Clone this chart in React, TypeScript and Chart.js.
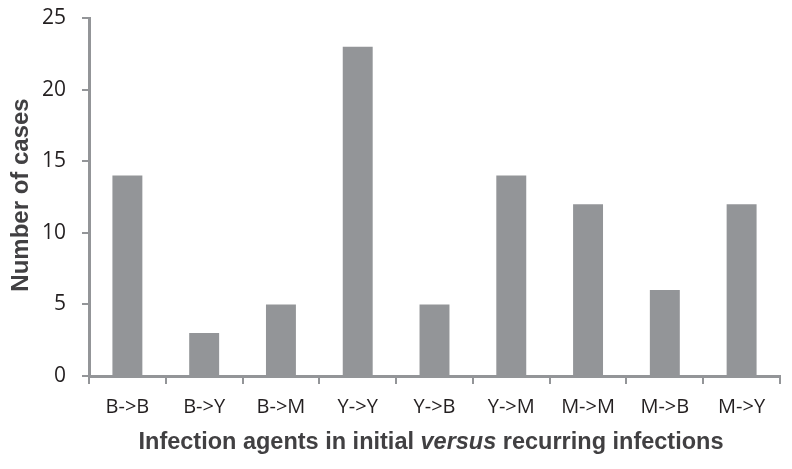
import React, { useEffect, useRef } from "react";
import { Chart, registerables } from "chart.js";

Chart.register(...registerables);

const categories = ["B->B", "B->Y", "B->M", "Y->Y", "Y->B", "Y->M", "M->M", "M->B", "M->Y"];
const cases = [14, 3, 5, 23, 5, 14, 12, 6, 12];
const yTicks = [0, 5, 10, 15, 20, 25];

const GRAY = "#939598";
const TEXT = "#231f20";
const TITLE = "#414042";

const titlePlugin = {
  id: "mixedTitles",
  afterDraw(chart: any) {
    const ctx = chart.ctx;
    ctx.save();
    ctx.fillStyle = TITLE;
    ctx.textBaseline = "middle";
    const parts = [
      { t: "Infection agents in initial ", f: "bold 23.5px 'Liberation Sans', Arial, sans-serif" },
      { t: "versus", f: "italic bold 23.5px 'Liberation Sans', Arial, sans-serif" },
      { t: " recurring infections", f: "bold 23.5px 'Liberation Sans', Arial, sans-serif" },
    ];
    let total = 0;
    for (const p of parts) {
      ctx.font = p.f;
      total += ctx.measureText(p.t).width;
    }
    let x = 431 - total / 2;
    ctx.textAlign = "left";
    for (const p of parts) {
      ctx.font = p.f;
      ctx.fillText(p.t, x, 443);
      x += ctx.measureText(p.t).width;
    }
    ctx.translate(21, 195);
    ctx.rotate(-Math.PI / 2);
    ctx.textAlign = "center";
    ctx.font = "bold 24px 'Liberation Sans', Arial, sans-serif";
    ctx.fillText("Number of cases", 0, 0);
    ctx.restore();
  },
};

export default function App() {
  const ref = useRef<HTMLCanvasElement>(null);
  useEffect(() => {
    if (!ref.current) return;
    const chart = new Chart(ref.current, {
      type: "bar",
      data: {
        labels: categories,
        datasets: [
          {
            data: cases,
            backgroundColor: GRAY,
            borderWidth: 0,
            categoryPercentage: 0.39,
            barPercentage: 1,
          },
        ],
      },
      options: {
        animation: false,
        responsive: false,
        maintainAspectRatio: false,
        layout: { padding: { top: 18, right: 12, left: 0, bottom: 0 } },
        plugins: { legend: { display: false }, tooltip: { enabled: false }, title: { display: false } },
        scales: {
          x: {
            offset: true,
            grid: { offset: true, drawOnChartArea: false, drawTicks: true, tickLength: 8, color: GRAY, lineWidth: 2 },
            border: { color: GRAY, width: 3 },
            ticks: {
              color: TEXT,
              padding: 11,
              font: { family: "'Open Sans', sans-serif", size: 20 },
              maxRotation: 0,
              autoSkip: false,
            },
            afterFit(scale: any) {
              scale.height = 469 - 376;
              scale.paddingLeft = 0;
              scale.paddingRight = 0;
            },
          },
          y: {
            min: 0,
            max: 25,
            afterBuildTicks(scale: any) {
              scale.ticks = yTicks.map((v) => ({ value: v }));
            },
            grid: { drawOnChartArea: false, drawTicks: true, tickLength: 7, color: GRAY, lineWidth: 2 },
            border: { color: GRAY, width: 3 },
            ticks: {
              color: TEXT,
              padding: 16,
              font: { family: "'Open Sans', sans-serif", size: 21 },
            },
            afterFit(scale: any) {
              scale.width = 89;
              scale.paddingTop = 0;
              scale.paddingBottom = 0;
            },
          },
        },
      },
      plugins: [titlePlugin],
    });
    return () => chart.destroy();
  }, []);
  return (
    <div style={{ position: "fixed", left: 0, top: 0, width: 792, height: 469, background: "#fff" }}>
      <canvas ref={ref} width={792} height={469} style={{ width: 792, height: 469 }} />
    </div>
  );
}
